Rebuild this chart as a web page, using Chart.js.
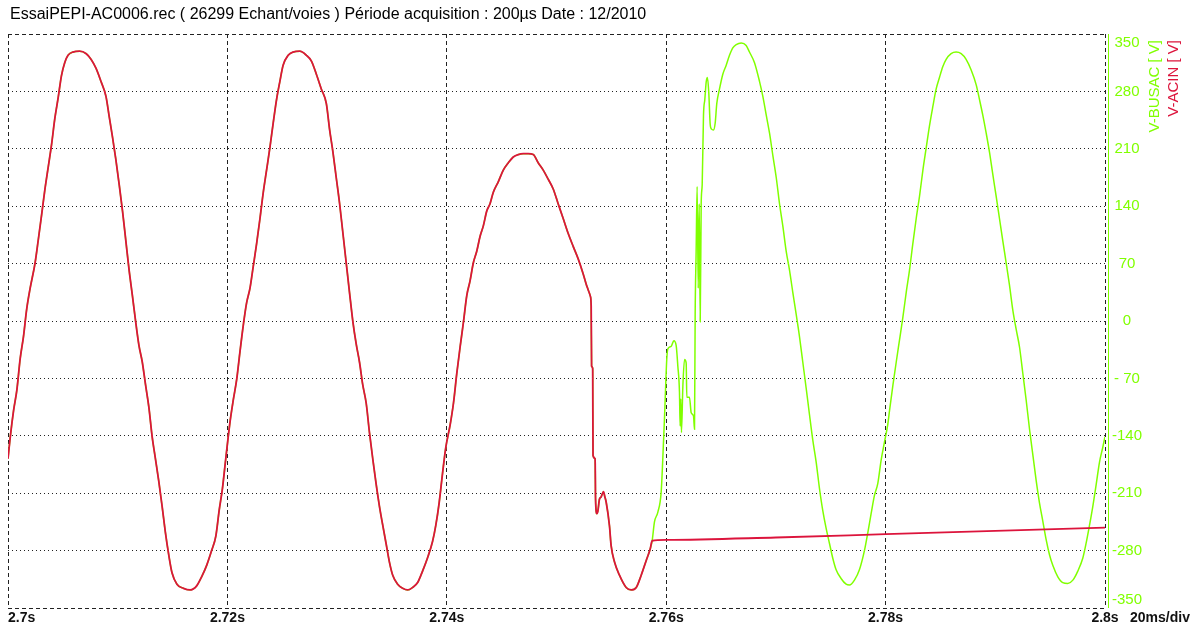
<!DOCTYPE html>
<html>
<head>
<meta charset="utf-8">
<script src="https://cdn.jsdelivr.net/npm/chart.js@4.4.1/dist/chart.umd.min.js"></script>
<style>
  html, body { margin: 0; padding: 0; background: #fff; }
  #wrap { width: 1203px; height: 628px; }
</style>
</head>
<body>
<div id="wrap"><canvas id="scope" width="1203" height="628"></canvas></div>
<script>
// Recording start (s); sample times below are ms after it
const START_S = 2.7;

// Both channels are identical until the supply trips (~2.7587 s)
const commonMs = [
  0, 0.21, 0.51, 0.81, 1.11, 1.41, 1.71, 2.02, 2.47, 2.77,
  3.07, 3.37, 3.67, 3.97, 4.27, 4.57, 4.87, 5.17, 5.47, 5.92,
  6.53, 7.13, 7.58, 8.03, 8.48, 8.93, 9.23, 9.53, 9.83, 10.14,
  10.44, 10.74, 11.04, 11.34, 11.64, 11.94, 12.24, 12.54, 12.84, 13.14,
  13.44, 13.74, 14.05, 14.35, 14.65, 14.95, 15.40, 16.00, 16.60, 17.20,
  17.65, 18.11, 18.56, 18.95, 19.25, 19.55, 19.85, 20.24, 20.54, 20.85,
  21.15, 21.45, 21.75, 22.06, 22.36, 22.66, 22.97, 23.27, 23.57, 23.87,
  24.18, 24.48, 24.78, 25.08, 25.54, 25.99, 26.60, 27.20, 27.66, 28.11,
  28.56, 29.02, 29.32, 29.62, 29.92, 30.23, 30.53, 30.83, 31.13, 31.44,
  31.74, 32.04, 32.34, 32.65, 32.95, 33.25, 33.56, 33.86, 34.16, 34.46,
  34.77, 35.07, 35.52, 35.98, 36.43, 36.88, 37.34, 37.79, 38.24, 38.70,
  39.00, 39.30, 39.61, 39.91, 40.30, 40.61, 40.91, 41.21, 41.52, 41.82,
  42.12, 42.42, 42.73, 43.03, 43.33, 43.64, 43.94, 44.24, 44.70, 45.15,
  45.61, 46.06, 46.52, 46.97, 47.42, 47.88, 48.33, 48.79, 49.24, 49.70,
  50.15, 50.61, 51.06, 51.52, 51.97, 52.42, 52.73, 52.86, 53.09, 53.16,
  53.20, 53.30, 53.33, 53.52, 53.56, 53.68, 53.77, 53.92, 54.05, 54.28,
  54.40, 54.53, 54.83, 54.98, 55.29, 55.74, 56.35, 56.81, 57.27, 57.72,
  58.18, 58.54, 58.72
];
const commonV = [
  -168, -141, -109, -84, -46, -19, 15, 40, 71, 100,
  130, 161, 188, 215, 247, 272, 299, 315, 324, 328,
  329, 326, 319, 308, 292, 274, 249, 224, 197, 166,
  134, 98, 62, 31, -1, -30, -50, -78, -105, -141,
  -168, -195, -226, -258, -285, -307, -321, -326, -328, -323,
  -312, -298, -280, -262, -231, -204, -168, -123, -96, -71,
  -37, -5, 22, 40, 67, 94, 125, 157, 184, 211,
  242, 270, 292, 312, 324, 328, 329, 324, 317, 301,
  283, 265, 233, 206, 175, 143, 107, 71, 35, -1,
  -28, -50, -78, -100, -136, -168, -199, -226, -249, -271,
  -294, -310, -321, -326, -328, -325, -319, -305, -289, -269,
  -249, -222, -186, -154, -127, -100, -64, -32, -1, 31,
  49, 71, 85, 103, 116, 134, 143, 157, 170, 184,
  193, 200, 203, 204, 204, 203, 193, 184, 173, 161,
  143, 125, 107, 91, 76, 58, 44, 39, 30, 18,
  -55, -58, -164, -168, -217, -235, -232, -217, -215, -208,
  -214, -221, -250, -274, -294, -310, -325, -328, -325, -310,
  -292, -278, -268
];

// V-ACIN after the trip: almost flat, slowly drifting up
const acinTailMs = [60, 70, 80, 90, 100];
const acinTailV = [-267, -264, -260, -256, -252];

// V-BUSAC after the trip: transient, then back to a clean sine
const busacTailMs = [
  58.93, 59.24, 59.54, 59.69, 59.84, 59.93, 60.05, 60.15, 60.45, 60.70,
  60.91, 61.06, 61.21, 61.27, 61.33, 61.39, 61.52, 61.67, 61.82, 61.88,
  62.12, 62.28, 62.49, 62.58, 62.64, 62.73, 62.82, 62.92, 63.01, 63.10,
  63.19, 63.28, 63.40, 63.52, 63.65, 63.76, 63.88, 64.01, 64.13, 64.31,
  64.47, 64.61, 64.86, 65.16, 65.47, 65.77, 66.07, 66.38, 66.84, 67.29,
  67.59, 68.05, 68.51, 68.81, 69.12, 69.42, 69.72, 70.03, 70.33, 70.63,
  70.94, 71.24, 71.54, 71.85, 72.15, 72.45, 72.76, 73.06, 73.36, 73.67,
  73.97, 74.27, 74.58, 74.88, 75.18, 75.48, 75.94, 76.40, 76.70, 77.16,
  77.62, 78.07, 78.38, 78.68, 78.98, 79.29, 79.59, 79.89, 80.20, 80.36,
  80.67, 80.97, 81.27, 81.57, 81.88, 82.18, 82.48, 82.79, 83.09, 83.40,
  83.70, 84.00, 84.30, 84.61, 84.91, 85.21, 85.52, 85.97, 86.43, 86.89,
  87.34, 87.80, 88.26, 88.56, 88.86, 89.17, 89.47, 89.77, 90.08, 90.38,
  90.68, 90.99, 91.29, 91.60, 91.90, 92.21, 92.51, 92.81, 93.12, 93.42,
  93.73, 94.03, 94.33, 94.64, 94.94, 95.24, 95.70, 96.15, 96.61, 97.07,
  97.52, 97.98, 98.28, 98.59, 98.89, 99.20, 99.50, 99.80, 100
];
const busacTailV = [
  -245, -233, -209, -168, -120, -87, -47, -34, -31, -24,
  -30, -55, -87, -128, -95, -136, -79, -47, -51, -93,
  -93, -112, -116, -132, 8, 85, 164, 40, 143, -1,
  143, 166, 251, 270, 292, 297, 279, 240, 234, 233,
  242, 265, 283, 301, 312, 324, 333, 337, 339, 336,
  328, 315, 292, 274, 251, 229, 202, 175, 143, 116,
  85, 62, 35, 8, -19, -50, -82, -114, -145, -172,
  -204, -231, -253, -271, -289, -303, -314, -321, -322, -316,
  -303, -280, -258, -235, -213, -198, -170, -148, -126, -109,
  -78, -50, -23, 4, 35, 62, 94, 125, 152, 184,
  211, 238, 261, 283, 297, 310, 319, 326, 328, 326,
  319, 306, 288, 270, 251, 229, 206, 179, 152, 125,
  98, 71, 44, 13, -10, -32, -64, -96, -132, -163,
  -195, -222, -244, -267, -285, -298, -312, -319, -320, -316,
  -305, -289, -271, -249, -226, -199, -172, -154, -141
];

const xTickLabels = ['2.7s', '2.72s', '2.74s', '2.76s', '2.78s', '2.8s'];
const yTickLabels = ['-350', '-280', '-210', '-140', '- 70', '0', '70', '140', '210', '280', '350'];

const TITLE = 'EssaiPEPI-AC0006.rec ( 26299 Echant/voies ) Période acquisition : 200µs Date : 12/2010';
const GREEN = '#80ff00';
const RED = '#dc143c';
const FONT = '"Liberation Sans", Arial, sans-serif';

function toPoints(ms, volts) {
    return ms.map((m, i) => ({ x: START_S + m / 1000, y: volts[i] }));
}

const acinPoints = toPoints(commonMs.concat(acinTailMs), commonV.concat(acinTailV));
const busacPoints = toPoints(commonMs.concat(busacTailMs), commonV.concat(busacTailV));

/**
 * Draws the scope-style decorations: header line, tick labels, axis names
 */
const scopeText = {
    id: 'scopeText',
    afterDraw(chart) {
        const ctx = chart.ctx;
        const area = chart.chartArea;
        const xs = chart.scales.x;
        const ys = chart.scales.y;

        ctx.save();

        // header
        ctx.fillStyle = '#000';
        ctx.font = '16px ' + FONT;
        ctx.textAlign = 'left';
        ctx.textBaseline = 'middle';
        ctx.fillText(TITLE, 10, 15);

        // green axis line just right of the plot frame
        ctx.strokeStyle = GREEN;
        ctx.lineWidth = 1;
        ctx.beginPath();
        ctx.moveTo(area.right + 3.5, area.top);
        ctx.lineTo(area.right + 3.5, area.bottom);
        ctx.stroke();

        // time labels
        ctx.fillStyle = '#111';
        ctx.font = 'bold 14px ' + FONT;
        ctx.textBaseline = 'middle';
        xs.ticks.forEach(tick => {
            const i = Math.round((tick.value - START_S) / 0.02);
            ctx.textAlign = i === 0 ? 'left' : 'center';
            ctx.fillText(xTickLabels[i], xs.getPixelForValue(tick.value), 618);
        });
        ctx.textAlign = 'left';
        ctx.fillText('20ms/div', 1130, 618);

        // voltage labels
        ctx.fillStyle = GREEN;
        ctx.font = '15px ' + FONT;
        ctx.textAlign = 'center';
        ys.ticks.forEach(tick => {
            const i = Math.round((tick.value + 350) / 70);
            let py = ys.getPixelForValue(tick.value);
            py = Math.min(Math.max(py, area.top + 9), area.bottom - 8);
            ctx.fillText(yTickLabels[i], 1127, py);
        });

        // channel names, written bottom-to-top
        ctx.font = '15px ' + FONT;
        ctx.textAlign = 'right';
        [['V-BUSAC [ V]', GREEN, 1155], ['V-ACIN [ V]', RED, 1174]].forEach(([txt, col, px]) => {
            ctx.save();
            ctx.translate(px, 40);
            ctx.rotate(-Math.PI / 2);
            ctx.fillStyle = col;
            ctx.fillText(txt, 0, 0);
            ctx.restore();
        });

        ctx.restore();
    }
};

new Chart(document.getElementById('scope'), {
    type: 'line',
    data: {
        datasets: [{
            label: 'V-ACIN',
            data: acinPoints,
            borderColor: RED,
            borderWidth: 1.8,
            order: 0
        }, {
            label: 'V-BUSAC',
            data: busacPoints,
            borderColor: GREEN,
            borderWidth: 1.5,
            order: 1
        }]
    },
    options: {
        responsive: false,
        animation: false,
        layout: {
            padding: { left: 8, top: 34, right: 98, bottom: 20 }
        },
        elements: {
            point: { radius: 0 },
            line: { cubicInterpolationMode: 'monotone', fill: false }
        },
        plugins: {
            legend: { display: false },
            tooltip: { enabled: false },
            title: { display: false }
        },
        scales: {
            x: {
                type: 'linear',
                min: 2.7,
                max: 2.8,
                ticks: { stepSize: 0.02, display: false },
                grid: { color: '#222', lineWidth: 1, drawTicks: false },
                border: { display: false, dash: [4, 3] }
            },
            y: {
                position: 'right',
                min: -350,
                max: 350,
                ticks: { stepSize: 70, display: false },
                grid: { color: '#222', lineWidth: 1, drawTicks: false },
                border: {
                    display: false,
                    dash: ctx => (ctx.index === 0 || ctx.index === 10) ? [4, 3] : [1, 3]
                }
            }
        }
    },
    plugins: [scopeText]
});
</script>
</body>
</html>
